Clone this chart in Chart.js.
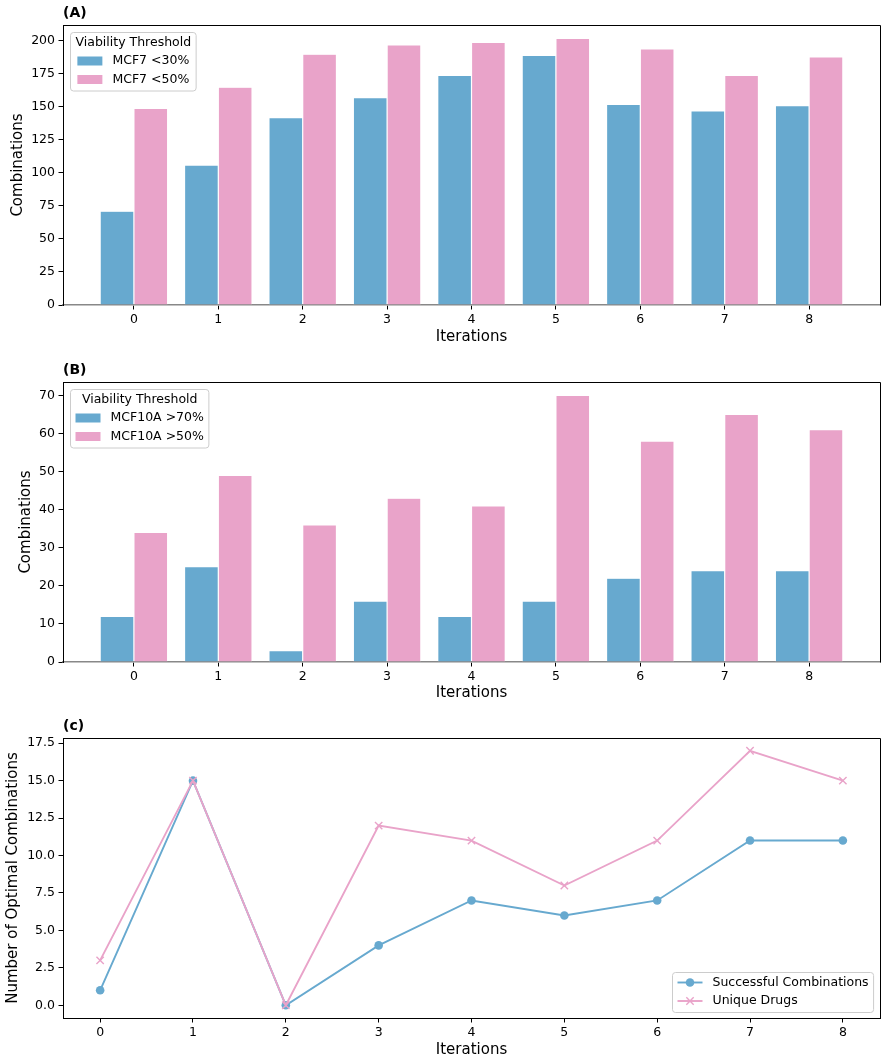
<!DOCTYPE html>
<html>
<head>
<meta charset="utf-8">
<title>Combinations per iteration</title>
<script src="https://cdn.jsdelivr.net/npm/chart.js@4.4.1/dist/chart.umd.min.js"></script>
<style>
  html, body { margin: 0; padding: 0; background: #fff; }
  canvas { display: block; }
</style>
</head>
<body>
  <canvas id="chart-a" width="888" height="355"></canvas>
  <canvas id="chart-b" width="888" height="355"></canvas>
  <canvas id="chart-c" width="888" height="353"></canvas>
<script>
/*
* =============================================
* DATA
* ============================================= */
const iterations = [0, 1, 2, 3, 4, 5, 6, 7, 8];

// (A) MCF7 viability
const mcf7Below30 = [71, 106, 142, 157, 174, 189, 152, 147, 151];
const mcf7Below50 = [149, 165, 190, 197, 199, 202, 194, 174, 188];

// (B) MCF10A viability
const mcf10aAbove70 = [12, 25, 3, 16, 12, 16, 22, 24, 24];
const mcf10aAbove50 = [34, 49, 36, 43, 41, 70, 58, 65, 61];

// (c) optimal combinations
const successfulCombos = [1, 15, 0, 4, 7, 6, 7, 11, 11];
const uniqueDrugs = [3, 15, 0, 12, 11, 8, 11, 17, 15];

const ticksA = [0, 25, 50, 75, 100, 125, 150, 175, 200];
const ticksB = [0, 10, 20, 30, 40, 50, 60, 70];
const ticksC = [0, 2.5, 5, 7.5, 10, 12.5, 15, 17.5];


/*
* =============================================
* STYLE
* ============================================= */
const FONT = '"DejaVu Sans", sans-serif';
const BLUE = '#67a9cf';
const PINK = '#e9a3c9';

const tickFont = { family: FONT, size: 12.5 };
const labelFont = { family: FONT, size: 15 };

const toPoints = (ys) => iterations.map((x, i) => ({ x: x, y: ys[i] }));


/*
* =============================================
* PLUGINS
* ============================================= */
/**
 * @name panelFrame
 * top / right spines + panel letter
 */
const panelFrame = {
  id: 'panelFrame',
  afterDraw(chart, args, opts) {
    const { ctx, chartArea } = chart;
    const l = Math.round(chartArea.left) + 0.5,
      t = Math.round(chartArea.top) + 0.5,
      r = Math.round(chartArea.right) + 0.5,
      b = Math.round(chartArea.bottom) + 0.5;

    ctx.save();
    ctx.strokeStyle = '#000';
    ctx.lineWidth = 1;
    ctx.beginPath();
    ctx.moveTo(l, t);
    ctx.lineTo(r, t);
    ctx.lineTo(r, b);
    ctx.stroke();

    ctx.font = 'bold 14px ' + FONT;
    ctx.fillStyle = '#000';
    ctx.textBaseline = 'alphabetic';
    ctx.textAlign = 'left';
    ctx.fillText(opts.label, chartArea.left, chartArea.top - 8);
    ctx.restore();
  }
};

/**
 * @name boxLegend
 * matplotlib-like framed legend inside the plot area
 */
const boxLegend = {
  id: 'boxLegend',
  afterDatasetsDraw(chart, args, opts) {
    const { ctx, chartArea } = chart;
    const items = chart.data.datasets;
    const PAD = 5, HANDLE = 25, TEXT_PAD = 10, ROW = 18.5, INSET = 6.5;

    ctx.save();
    ctx.font = '12.5px ' + FONT;

    const labelW = Math.max(...items.map((d) => ctx.measureText(d.label).width));
    const titleW = opts.title ? ctx.measureText(opts.title).width : 0;
    const entriesW = HANDLE + TEXT_PAD + labelW;
    const contentW = Math.max(titleW, entriesW);
    const w = contentW + 2 * PAD;
    const rows = items.length + (opts.title ? 1 : 0);
    const h = 10 + (rows - 1) * ROW + 11.5;

    let x = chartArea.left + INSET,
      y = chartArea.top + INSET;
    if (opts.corner === 'br') {
      x = chartArea.right - INSET - w;
      y = chartArea.bottom - INSET - h;
    }
    x = Math.round(x) + 0.5;
    y = Math.round(y) + 0.5;

    // frame
    const rad = 3;
    ctx.beginPath();
    ctx.moveTo(x + rad, y);
    ctx.arcTo(x + w, y, x + w, y + h, rad);
    ctx.arcTo(x + w, y + h, x, y + h, rad);
    ctx.arcTo(x, y + h, x, y, rad);
    ctx.arcTo(x, y, x + w, y, rad);
    ctx.closePath();
    ctx.fillStyle = 'rgba(255,255,255,0.8)';
    ctx.fill();
    ctx.strokeStyle = '#cccccc';
    ctx.lineWidth = 1;
    ctx.stroke();

    ctx.fillStyle = '#000';
    ctx.textBaseline = 'middle';
    let rowY = y + 10;

    if (opts.title) {
      ctx.textAlign = 'center';
      ctx.fillText(opts.title, x + w / 2, rowY);
      rowY += ROW;
    }

    const ex = x + PAD + (contentW - entriesW) / 2;
    items.forEach((d) => {
      if (opts.kind === 'bar') {
        ctx.fillStyle = d.backgroundColor;
        ctx.fillRect(ex, rowY - 4.5, HANDLE, 9);
      } else {
        const mx = ex + HANDLE / 2;
        ctx.strokeStyle = d.borderColor;
        ctx.lineWidth = d.borderWidth;
        ctx.beginPath();
        ctx.moveTo(ex, rowY);
        ctx.lineTo(ex + HANDLE, rowY);
        ctx.stroke();
        if (d.pointStyle === 'circle') {
          ctx.fillStyle = d.backgroundColor;
          ctx.beginPath();
          ctx.arc(mx, rowY, d.pointRadius, 0, Math.PI * 2);
          ctx.fill();
        } else {
          const o = d.pointRadius * Math.SQRT1_2;
          ctx.lineWidth = d.pointBorderWidth;
          ctx.beginPath();
          ctx.moveTo(mx - o, rowY - o);
          ctx.lineTo(mx + o, rowY + o);
          ctx.moveTo(mx + o, rowY - o);
          ctx.lineTo(mx - o, rowY + o);
          ctx.stroke();
        }
      }
      ctx.fillStyle = '#000';
      ctx.textAlign = 'left';
      ctx.fillText(d.label, ex + HANDLE + TEXT_PAD, rowY);
      rowY += ROW;
    });
    ctx.restore();
  }
};


/*
* =============================================
* SCALES
* ============================================= */
const xScale = (o) => ({
  type: 'linear',
  min: o.min,
  max: o.max,
  offset: false,
  grid: { display: true, drawOnChartArea: false, drawTicks: true, tickLength: 4.5, color: '#000', offset: false },
  border: { display: true, color: o.borderColor, width: o.borderWidth },
  ticks: { font: tickFont, color: '#000', padding: 3, maxRotation: 0, includeBounds: false },
  afterBuildTicks: (scale) => { scale.ticks = iterations.map((v) => ({ value: v })); },
  afterFit: (scale) => { scale.height = o.height; },
  title: { display: true, text: 'Iterations', font: labelFont, color: '#000', padding: { top: 0, bottom: o.titlePad } }
});

const yScale = (o) => ({
  type: 'linear',
  min: o.min,
  max: o.max,
  grid: { display: true, drawOnChartArea: false, drawTicks: true, tickLength: 4.5, color: '#000' },
  border: { display: true, color: '#000', width: 1 },
  ticks: {
    font: tickFont,
    color: '#000',
    padding: 3.5,
    includeBounds: false,
    callback: o.format || ((v) => v)
  },
  afterBuildTicks: (scale) => { scale.ticks = o.ticks.map((v) => ({ value: v })); },
  afterFit: (scale) => { scale.width = 63; },
  title: { display: true, text: o.title, font: labelFont, color: '#000', padding: { top: o.titlePad, bottom: 0 } }
});

const baseOptions = (padTop, scales, plugins) => ({
  responsive: false,
  maintainAspectRatio: false,
  animation: false,
  devicePixelRatio: 1,
  layout: { padding: { top: padTop, right: 8, bottom: 0, left: 0 } },
  plugins: Object.assign({ legend: { display: false }, tooltip: { enabled: false } }, plugins),
  scales: scales
});

const barSet = (label, values, color) => ({
  label: label,
  data: toPoints(values),
  backgroundColor: color,
  borderColor: 'rgba(255,255,255,0.7)',
  borderWidth: 0.6,
  categoryPercentage: 0.8,
  barPercentage: 1.0
});


/*
* =============================================
* CHARTS
* ============================================= */
const initChartA = () => {
  new Chart(document.getElementById('chart-a'), {
    type: 'bar',
    data: {
      datasets: [
        barSet('MCF7 <30%', mcf7Below30, BLUE),
        barSet('MCF7 <50%', mcf7Below50, PINK)
      ]
    },
    options: baseOptions(25, {
      x: xScale({ min: -0.84, max: 8.84, height: 50, titlePad: 9, borderColor: '#888', borderWidth: 1.6 }),
      y: yScale({ min: 0, max: 212.1, ticks: ticksA, title: 'Combinations', titlePad: 9.3 })
    }, {
      panelFrame: { label: '(A)' },
      boxLegend: { title: 'Viability Threshold', kind: 'bar', corner: 'tl' }
    }),
    plugins: [panelFrame, boxLegend]
  });
};

const initChartB = () => {
  new Chart(document.getElementById('chart-b'), {
    type: 'bar',
    data: {
      datasets: [
        barSet('MCF10A >70%', mcf10aAbove70, BLUE),
        barSet('MCF10A >50%', mcf10aAbove50, PINK)
      ]
    },
    options: baseOptions(27, {
      x: xScale({ min: -0.84, max: 8.84, height: 48, titlePad: 8, borderColor: '#888', borderWidth: 1.6 }),
      y: yScale({ min: 0, max: 73.5, ticks: ticksB, title: 'Combinations', titlePad: 17.5 })
    }, {
      panelFrame: { label: '(B)' },
      boxLegend: { title: 'Viability Threshold', kind: 'bar', corner: 'tl' }
    }),
    plugins: [panelFrame, boxLegend]
  });
};

const initChartC = () => {
  new Chart(document.getElementById('chart-c'), {
    type: 'line',
    data: {
      datasets: [
        {
          label: 'Successful Combinations',
          data: toPoints(successfulCombos),
          borderColor: BLUE,
          backgroundColor: BLUE,
          borderWidth: 1.9,
          tension: 0,
          pointStyle: 'circle',
          pointRadius: 4.3,
          pointBorderWidth: 0,
          order: 1
        },
        {
          label: 'Unique Drugs',
          data: toPoints(uniqueDrugs),
          borderColor: PINK,
          backgroundColor: PINK,
          pointBorderColor: PINK,
          borderWidth: 1.9,
          tension: 0,
          pointStyle: 'crossRot',
          pointRadius: 5.2,
          pointBorderWidth: 1.4,
          order: 0
        }
      ]
    },
    options: baseOptions(28, {
      x: xScale({ min: -0.4, max: 8.4, height: 45, titlePad: 4, borderColor: '#000', borderWidth: 1 }),
      y: yScale({
        min: -0.85, max: 17.85, ticks: ticksC, title: 'Number of Optimal Combinations', titlePad: 4.3,
        format: (v) => Number(v).toFixed(1)
      })
    }, {
      panelFrame: { label: '(c)' },
      boxLegend: { title: '', kind: 'line', corner: 'br' }
    }),
    plugins: [panelFrame, boxLegend]
  });
};

initChartA();
initChartB();
initChartC();
</script>
</body>
</html>
